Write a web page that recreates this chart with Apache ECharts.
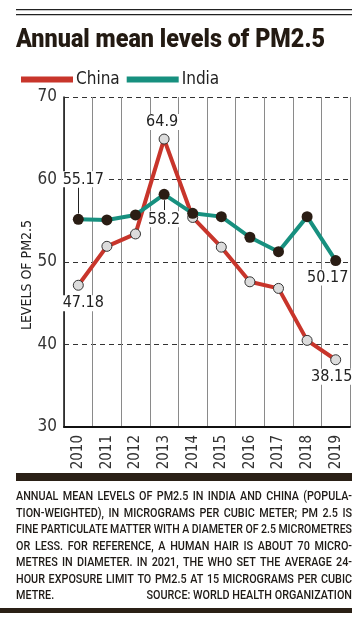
<!DOCTYPE html>
<html><head><meta charset="utf-8">
<script src="https://cdn.jsdelivr.net/npm/echarts@6/dist/echarts.min.js"></script>
<style>html,body{margin:0;padding:0;background:#fff}#c{width:361px;height:621px}</style>
</head><body><div id="c"></div>
<script>
const years = ['2010','2011','2012','2013','2014','2015','2016','2017','2018','2019'];
const china = [47.18, 51.9, 53.4, 64.9, 55.4, 51.8, 47.6, 46.8, 40.5, 38.15];
const india = [55.17, 55.1, 55.7, 58.2, 55.9, 55.5, 53.0, 51.25, 55.5, 50.17];
const yMin = 30, yMax = 70, yStep = 10;
const titleText = 'Annual mean levels of PM2.5';
const yName = 'LEVELS OF PM2.5';
const noteLines = [
  'ANNUAL MEAN LEVELS OF PM2.5 IN INDIA AND CHINA (POPULA-',
  'TION-WEIGHTED), IN MICROGRAMS PER CUBIC METER; PM 2.5 IS',
  'FINE PARTICULATE MATTER WITH A DIAMETER OF 2.5 MICROMETRES',
  'OR LESS. FOR REFERENCE, A HUMAN HAIR IS ABOUT 70 MICRO-',
  'METRES IN DIAMETER. IN 2021, THE WHO SET THE AVERAGE 24-',
  'HOUR EXPOSURE LIMIT TO PM2.5 AT 15 MICROGRAMS PER CUBIC'
];
const noteLast = 'METRE.';
const sourceText = 'SOURCE: WORLD HEALTH ORGANIZATION';

const FF = "'Liberation Sans Narrow','DejaVu Sans Condensed',Roboto,sans-serif";
const RED = '#c8352b', TEAL = '#17907f', DARK = '#2a1d14';

const cv = document.createElement('canvas').getContext('2d');
function measure(t, font){ cv.font = font; return cv.measureText(t).width; }

const graphic = [];
graphic.push({type:'rect', shape:{x:16,y:9,width:336,height:1.2}, style:{fill:'#222'}});
graphic.push({type:'rect', shape:{x:16,y:14,width:336,height:1.2}, style:{fill:'#222'}});
const tFont = "900 25px Roboto, 'DejaVu Sans', sans-serif";
const tw = measure(titleText, tFont);
graphic.push({type:'text', x:16, y:41, scaleX: 309/tw, originX:0,
  style:{text:titleText, font:tFont, fill:'#231a12', textVerticalAlign:'middle'}});
graphic.push({type:'text', x:27, y:275, rotation:Math.PI/2,
  style:{text:yName, font:"14px "+FF, fill:'#222', textAlign:'center', textVerticalAlign:'middle'}});
graphic.push({type:'rect', shape:{x:16,y:473,width:336,height:8}, style:{fill:'#2a2016'}});
graphic.push({type:'rect', shape:{x:0,y:608,width:352,height:5}, style:{fill:'#2a2016'}});
const nFont = "500 13.5px Roboto, sans-serif";
const L = 16, R = 352, W = R - L;
const sc = 0.8;
function justify(line, cy){
  const words = line.split(' ');
  const ws = words.map(w => measure(w, nFont) * sc);
  const sum = ws.reduce((a,b)=>a+b,0);
  let s = sc, gap = (W - sum) / (words.length - 1);
  let widths = ws;
  if (gap < 2.5) { s = sc * (W - 2.5*(words.length-1)) / sum; widths = ws.map(w=>w*s/sc); gap = 2.5; }
  let x = L;
  words.forEach((w,i)=>{
    graphic.push({type:'text', x:x, y:cy, scaleX:s, originX:0,
      style:{text:w, font:nFont, fill:'#1e1a16', textVerticalAlign:'middle'}});
    x += widths[i] + gap;
  });
}
noteLines.forEach((ln,i)=>justify(ln, 497 + 16.5*i));
const lastY = 497 + 16.5*6;
graphic.push({type:'text', x:L, y:lastY, scaleX:sc, originX:0,
  style:{text:noteLast, font:nFont, fill:'#1e1a16', textVerticalAlign:'middle'}});
const sw = measure(sourceText, nFont)*sc;
graphic.push({type:'text', x:R - sw, y:lastY, scaleX:sc, originX:0,
  style:{text:sourceText, font:nFont, fill:'#1e1a16', textVerticalAlign:'middle'}});

const chinaLab = {0:[5,18], 3:[-2,-17], 9:[-4,17]};
const indiaLab = {0:[5,-40], 3:[0,25], 9:[-8,17]};
function mk(vals, lab){
  return vals.map((v,i)=>{
    if (!(i in lab)) return v;
    return {value:v, label:{show:true, position:'inside', offset:lab[i], formatter:String(v),
      fontFamily:FF, fontSize:16, color:'#222', backgroundColor:'#fff', padding:[0,1]}};
  });
}

const chart = echarts.init(document.getElementById('c'), null, {renderer:'canvas'});
chart.setOption({
  animation:false,
  graphic: graphic,
  legend:{left:16, top:66, icon:'rect', itemWidth:52, itemHeight:6, itemGap:7,
    itemStyle:{borderWidth:0},
    textStyle:{fontFamily:FF, fontSize:17, color:'#222', padding:[0,0,0,-2]},
    data:[{name:'China', itemStyle:{color:RED, borderWidth:0}},
          {name:'India', itemStyle:{color:TEAL, borderWidth:0}}]},
  grid:{left:64, right:11, top:97, bottom:194},
  xAxis:{type:'category', data:years, boundaryGap:true,
    axisLine:{lineStyle:{color:'#111', width:2}}, axisTick:{show:false},
    axisLabel:{rotate:90, margin:8, fontFamily:FF, fontSize:15, color:'#333'},
    splitLine:{show:true, lineStyle:{color:'#8a8a8a', width:1}}},
  yAxis:{type:'value', min:yMin, max:yMax, interval:yStep,
    axisLine:{show:true, lineStyle:{color:'#111', width:1.5}}, axisTick:{show:false},
    axisLabel:{margin:7, fontFamily:FF, fontSize:17, color:'#333'},
    splitLine:{show:true, lineStyle:{color:'#333', type:[5,4], width:1}}},
  series:[
    {name:'China', type:'line', data:mk(china, chinaLab), z:3,
      lineStyle:{color:RED, width:4}, itemStyle:{color:'#dcdcdc', borderColor:'#333', borderWidth:1},
      symbol:'circle', symbolSize:10, showAllSymbol:true},
    {name:'India', type:'line', data:mk(india, indiaLab), z:4,
      lineStyle:{color:TEAL, width:4}, itemStyle:{color:DARK},
      symbol:'circle', symbolSize:11, showAllSymbol:true,
      markLine:{silent:true, symbol:'none', label:{show:false},
        lineStyle:{color:'#222', width:1, type:'solid'},
        data:[
          [{coord:[years[0], india[0]+0.7]}, {coord:[years[0], 59.0]}],
          [{coord:[years[3], india[3]-0.7]}, {coord:[years[3], 56.3]}]
        ]}}
  ]
});
</script></body></html>
